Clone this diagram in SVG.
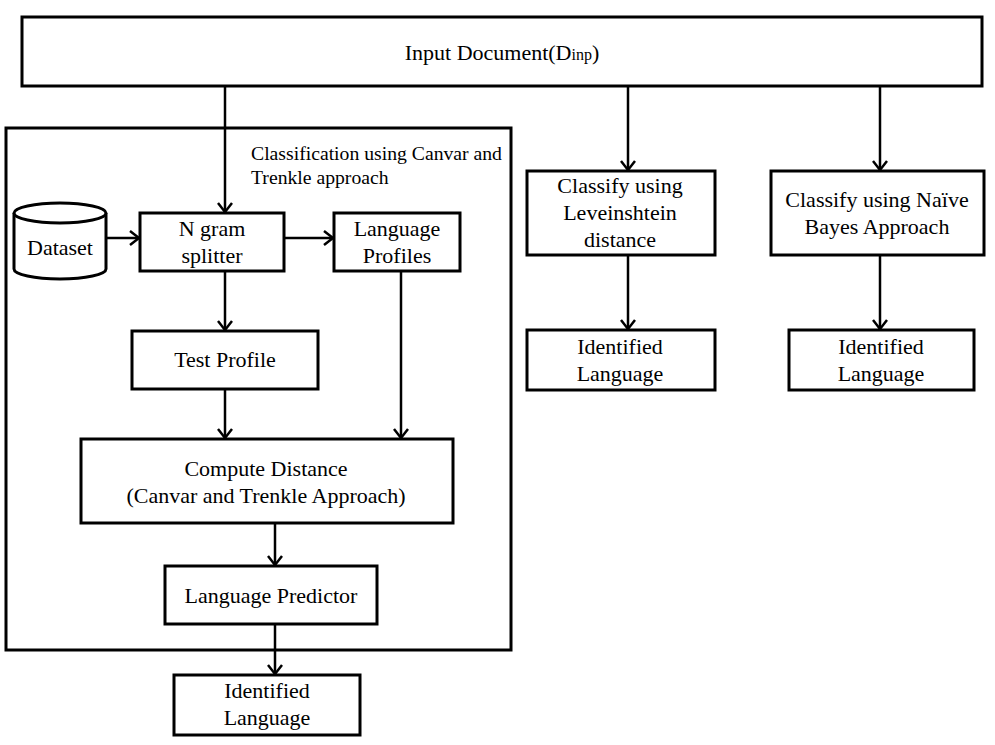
<svg xmlns="http://www.w3.org/2000/svg" width="995" height="745" viewBox="0 0 995 745">
<defs>
<style>
.box{fill:#fff;stroke:#000;stroke-width:3}
.t{font-family:"Liberation Serif","Times New Roman",serif;font-size:22px;fill:#000;text-anchor:middle}
.lbl{font-family:"Liberation Serif","Times New Roman",serif;font-size:19.7px;fill:#000}
.c{fill:none;stroke:#000;stroke-width:2.5;marker-end:url(#ah)}
</style>
<marker id="ah" markerUnits="userSpaceOnUse" markerWidth="14" markerHeight="16" viewBox="-1 -1 14 16" refX="10" refY="7" orient="auto">
<path d="M1,0 L10,7 L1,14" fill="none" stroke="#000" stroke-width="2.5"/>
</marker>
</defs>
<rect width="995" height="745" fill="#fff"/>
<g id="container">
<rect x="6" y="128" width="505" height="522" fill="none" stroke="#000" stroke-width="3"/>
<text class="lbl" x="251" y="160">Classification using Canvar and</text>
<text class="lbl" x="251" y="184">Trenkle approach</text>
</g>
<g id="input">
<rect class="box" x="22" y="17" width="960" height="69"/>
<text class="t" x="502" y="60">Input Document(D<tspan font-size="16">inp</tspan>)</text>
</g>
<g id="dataset">
<path d="M14,213 L14,269 A46,10 0 0 0 106,269 L106,213" fill="#fff" stroke="#000" stroke-width="3"/>
<ellipse cx="60" cy="213" rx="46" ry="10" fill="#fff" stroke="#000" stroke-width="3"/>
<text class="t" x="60" y="255">Dataset</text>
</g>
<g id="ngram">
<rect class="box" x="140" y="213" width="144" height="58"/>
<text class="t" x="212" y="236">N gram</text>
<text class="t" x="212" y="263">splitter</text>
</g>
<g id="langprofiles">
<rect class="box" x="334" y="213" width="126" height="58"/>
<text class="t" x="397" y="236">Language</text>
<text class="t" x="397" y="263">Profiles</text>
</g>
<g id="testprofile">
<rect class="box" x="132" y="331" width="186" height="58"/>
<text class="t" x="225" y="367">Test Profile</text>
</g>
<g id="compute">
<rect class="box" x="81" y="439" width="372" height="84"/>
<text class="t" x="266" y="476">Compute Distance</text>
<text class="t" x="266" y="503">(Canvar and Trenkle Approach)</text>
</g>
<g id="predictor">
<rect class="box" x="165" y="566" width="212" height="58"/>
<text class="t" x="271" y="603">Language Predictor</text>
</g>
<g id="identified1">
<rect class="box" x="174" y="675" width="186" height="60"/>
<text class="t" x="267" y="698">Identified</text>
<text class="t" x="267" y="725">Language</text>
</g>
<g id="lev">
<rect class="box" x="527" y="171" width="188" height="84"/>
<text class="t" x="620" y="193">Classify using</text>
<text class="t" x="620" y="220">Leveinshtein</text>
<text class="t" x="620" y="247">distance</text>
</g>
<g id="naive">
<rect class="box" x="771" y="171" width="213" height="84"/>
<text class="t" x="877" y="207">Classify using Naïve</text>
<text class="t" x="877" y="234">Bayes Approach</text>
</g>
<g id="identified2">
<rect class="box" x="527" y="330" width="188" height="60"/>
<text class="t" x="620" y="354">Identified</text>
<text class="t" x="620" y="381">Language</text>
</g>
<g id="identified3">
<rect class="box" x="789" y="330" width="185" height="60"/>
<text class="t" x="881" y="354">Identified</text>
<text class="t" x="881" y="381">Language</text>
</g>
<g id="connectors">
<path class="c" d="M225,87 L225,212"/>
<path class="c" d="M628,87 L628,170"/>
<path class="c" d="M880,87 L880,170"/>
<path class="c" d="M107,238 L139,238"/>
<path class="c" d="M285,238 L333,238"/>
<path class="c" d="M225,272 L225,330"/>
<path class="c" d="M401,272 L401,438"/>
<path class="c" d="M225,390 L225,438"/>
<path class="c" d="M275,524 L275,565"/>
<path class="c" d="M275,625 L275,674"/>
<path class="c" d="M628,256 L628,329"/>
<path class="c" d="M880,256 L880,329"/>
</g>
</svg>
